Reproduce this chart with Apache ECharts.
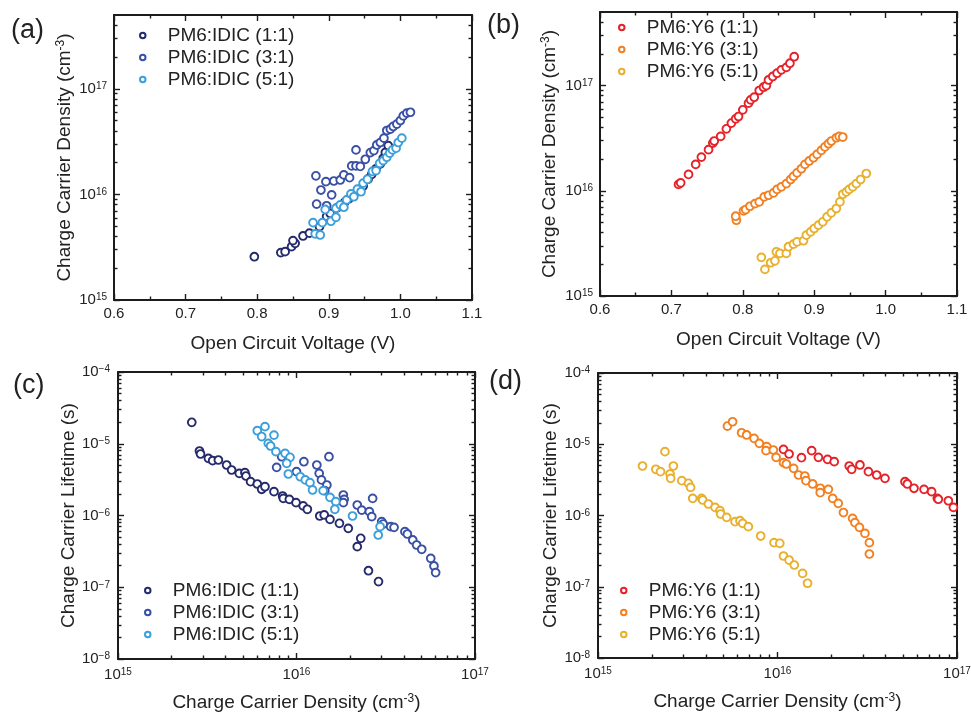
<!DOCTYPE html>
<html><head><meta charset="utf-8">
<script src="https://cdn.jsdelivr.net/npm/echarts@6/dist/echarts.min.js"></script>
<style>html,body{margin:0;padding:0;background:#fff}#c{width:971px;height:713px}</style>
</head><body><div id="c"></div><script>
// ---------- tick labels / categories ----------
const voltageTicks = [0.6, 0.7, 0.8, 0.9, 1.0, 1.1];
const densityDecades = [1e15, 1e16, 1e17];
const lifetimeDecades = [1e-8, 1e-7, 1e-6, 1e-5, 1e-4];
const idicNames = ['PM6:IDIC (1:1)', 'PM6:IDIC (3:1)', 'PM6:IDIC (5:1)'];
const y6Names = ['PM6:Y6 (1:1)', 'PM6:Y6 (3:1)', 'PM6:Y6 (5:1)'];
const idicColors = ['#252a6c', '#3a50a5', '#3c9fda'];
const y6Colors = ['#e52229', '#f28022', '#e8b02c'];

// ---------- (a) carrier density vs Voc, PM6:IDIC ----------
const vocIDIC11 = [[0.796,2.57e15],[0.833,2.81e15],[0.839,2.87e15],[0.848,3.2e15],[0.853,3.44e15],[0.850,3.65e15],[0.864,4.04e15],[0.873,4.3e15],[0.887,4.95e15],[0.897,6.2e15],[0.902,6.6e15],[0.912,7.5e15],[0.922,8.4e15],[0.928,9.1e15],[0.935,1.0e16],[0.942,1.1e16],[0.948,1.2e16],[0.955,1.4e16],[0.960,1.55e16],[0.966,1.75e16],[0.972,1.95e16],[0.976,2.2e16],[0.979,2.5e16],[0.983,2.9e16]];
const vocIDIC31 = [[0.882,1.50e16],[0.889,1.10e16],[0.896,1.32e16],[0.904,9.9e15],[0.883,8.1e15],[0.897,7.8e15],[0.907,1.34e16],[0.916,1.37e16],[0.921,1.53e16],[0.929,1.44e16],[0.938,2.64e16],[0.932,1.86e16],[0.938,1.86e16],[0.944,1.84e16],[0.951,2.15e16],[0.958,2.49e16],[0.963,2.60e16],[0.967,2.94e16],[0.972,3.10e16],[0.977,3.41e16],[0.981,4.03e16],[0.986,4.15e16],[0.990,4.40e16],[0.995,4.63e16],[1.000,5.01e16],[1.004,5.55e16],[1.009,5.88e16],[1.014,6.0e16]];
const vocIDIC51 = [[0.878,5.4e15],[0.881,4.23e15],[0.888,4.13e15],[0.891,5.4e15],[0.903,5.57e15],[0.895,7.2e15],[0.910,6.07e15],[0.910,7.4e15],[0.916,7.96e15],[0.921,7.56e15],[0.925,8.87e15],[0.931,1.01e16],[0.935,9.5e15],[0.940,1.12e16],[0.945,1.06e16],[0.948,1.28e16],[0.954,1.39e16],[0.961,1.65e16],[0.966,1.68e16],[0.971,1.97e16],[0.976,2.09e16],[0.981,2.25e16],[0.985,2.46e16],[0.989,2.64e16],[0.994,2.74e16],[0.997,3.10e16],[1.002,3.41e16]];

// ---------- (b) carrier density vs Voc, PM6:Y6 ----------
const vocY611 = [[0.710,1.15e16],[0.713,1.19e16],[0.724,1.43e16],[0.734,1.78e16],[0.742,2.09e16],[0.752,2.46e16],[0.758,2.84e16],[0.760,2.97e16],[0.769,3.29e16],[0.777,3.88e16],[0.784,4.40e16],[0.790,4.83e16],[0.794,5.08e16],[0.800,5.88e16],[0.808,6.80e16],[0.811,7.31e16],[0.816,7.75e16],[0.823,8.97e16],[0.829,9.64e16],[0.833,1.0e17],[0.836,1.13e17],[0.842,1.22e17],[0.848,1.31e17],[0.854,1.41e17],[0.861,1.49e17],[0.866,1.63e17],[0.872,1.88e17]];
const vocY631 = [[0.791,5.25e15],[0.790,5.73e15],[0.801,6.44e15],[0.804,6.63e15],[0.810,7.13e15],[0.817,7.55e15],[0.823,7.84e15],[0.830,8.75e15],[0.836,9.07e15],[0.843,9.54e15],[0.848,1.03e16],[0.854,1.09e16],[0.861,1.17e16],[0.867,1.28e16],[0.871,1.37e16],[0.876,1.48e16],[0.882,1.62e16],[0.887,1.78e16],[0.893,1.92e16],[0.899,2.06e16],[0.904,2.22e16],[0.910,2.42e16],[0.915,2.61e16],[0.920,2.80e16],[0.924,2.97e16],[0.931,3.19e16],[0.935,3.29e16],[0.940,3.24e16]];
const vocY651 = [[0.826,2.33e15],[0.831,1.79e15],[0.839,2.07e15],[0.845,2.16e15],[0.847,2.63e15],[0.852,2.54e15],[0.861,2.54e15],[0.864,2.94e15],[0.871,3.11e15],[0.876,3.27e15],[0.885,3.35e15],[0.889,3.79e15],[0.895,4.07e15],[0.900,4.38e15],[0.906,4.71e15],[0.912,5.07e15],[0.918,5.65e15],[0.924,6.17e15],[0.931,6.78e15],[0.936,7.84e15],[0.940,9.27e15],[0.945,9.75e15],[0.949,1.03e16],[0.954,1.09e16],[0.959,1.17e16],[0.965,1.28e16],[0.973,1.46e16]];

// ---------- (c) lifetime vs carrier density, PM6:IDIC ----------
const tauIDIC11 = [[2.59e15,1.99e-5],[2.86e15,7.93e-6],[2.90e15,7.2e-6],[3.21e15,6.26e-6],[3.39e15,5.81e-6],[3.65e15,5.94e-6],[4.06e15,5.06e-6],[4.33e15,4.31e-6],[4.78e15,3.87e-6],[5.14e15,3.95e-6],[5.21e15,3.55e-6],[5.53e15,2.96e-6],[6.03e15,2.75e-6],[6.38e15,2.32e-6],[6.66e15,2.52e-6],[7.48e15,2.15e-6],[8.36e15,1.87e-6],[8.44e15,1.73e-6],[9.12e15,1.68e-6],[9.94e15,1.51e-6],[1.09e16,1.36e-6],[1.15e16,1.22e-6],[1.35e16,9.84e-7],[1.43e16,1.02e-6],[1.54e16,8.84e-7],[1.74e16,7.78e-7],[1.95e16,6.62e-7],[2.29e16,4.81e-7],[2.19e16,3.68e-7],[2.53e16,1.70e-7],[2.88e16,1.20e-7]];
const tauIDIC31 = [[7.74e15,4.69e-6],[8.26e15,6.60e-6],[1.00e16,4.08e-6],[1.10e16,5.62e-6],[1.30e16,5.06e-6],[1.34e16,3.87e-6],[1.38e16,3.13e-6],[1.48e16,2.66e-6],[1.52e16,6.60e-6],[1.44e16,2.22e-6],[1.83e16,1.93e-6],[1.85e16,1.68e-6],[1.83e16,1.51e-6],[2.19e16,1.40e-6],[2.32e16,1.19e-6],[2.56e16,1.13e-6],[2.67e16,1.73e-6],[2.64e16,9.63e-7],[3.00e16,8.2e-7],[3.06e16,7.6e-7],[3.37e16,6.99e-7],[3.52e16,6.84e-7],[4.05e16,5.95e-7],[4.18e16,5.52e-7],[4.48e16,4.56e-7],[4.71e16,3.88e-7],[5.03e16,3.38e-7],[5.65e16,2.53e-7],[5.89e16,1.98e-7],[6.02e16,1.60e-7]];
const tauIDIC51 = [[6.03e15,1.52e-5],[6.66e15,1.73e-5],[6.38e15,1.26e-5],[7.48e15,1.32e-5],[6.95e15,1.01e-5],[7.16e15,9.3e-6],[7.67e15,7.76e-6],[8.63e15,7.35e-6],[9.2e15,6.47e-6],[8.81e15,5.34e-6],[9.0e15,3.79e-6],[1.05e16,3.47e-6],[1.12e16,3.13e-6],[1.19e16,2.87e-6],[1.23e16,2.27e-6],[1.41e16,2.22e-6],[1.54e16,1.79e-6],[1.66e16,1.56e-6],[1.64e16,1.22e-6],[2.06e16,9.84e-7],[2.94e16,6.99e-7],[2.87e16,5.35e-7]];

// ---------- (d) lifetime vs carrier density, PM6:Y6 ----------
const tauY611 = [[1.08e16,8.48e-6],[1.16e16,7.30e-6],[1.36e16,6.48e-6],[1.55e16,8.13e-6],[1.69e16,6.55e-6],[1.90e16,6.14e-6],[2.07e16,5.70e-6],[2.51e16,4.95e-6],[2.59e16,4.45e-6],[2.88e16,5.12e-6],[3.21e16,4.12e-6],[3.57e16,3.70e-6],[3.97e16,3.32e-6],[5.13e16,2.98e-6],[5.29e16,2.77e-6],[5.76e16,2.41e-6],[6.55e16,2.33e-6],[7.22e16,2.16e-6],[7.77e16,1.74e-6],[7.87e16,1.69e-6],[8.95e16,1.61e-6],[9.55e16,1.30e-6]];
const tauY631 = [[5.26e15,1.80e-5],[5.62e15,2.07e-5],[6.31e15,1.45e-5],[6.73e15,1.35e-5],[7.40e15,1.21e-5],[7.92e15,1.03e-5],[8.71e15,9.25e-6],[8.63e15,8.13e-6],[9.48e15,8.30e-6],[9.82e15,6.55e-6],[1.08e16,5.51e-6],[1.12e16,5.28e-6],[1.23e16,4.59e-6],[1.31e16,3.70e-6],[1.42e16,3.58e-6],[1.44e16,3.08e-6],[1.57e16,2.77e-6],[1.73e16,2.41e-6],[1.92e16,2.33e-6],[1.73e16,2.09e-6],[2.03e16,1.74e-6],[2.18e16,1.48e-6],[2.33e16,1.10e-6],[2.62e16,9.12e-7],[2.70e16,7.93e-7],[2.86e16,6.82e-7],[3.07e16,5.62e-7],[3.25e16,4.16e-7],[3.25e16,2.88e-7]];
const tauY651 = [[1.77e15,4.95e-6],[2.10e15,4.45e-6],[2.23e15,4.12e-6],[2.36e15,7.87e-6],[2.52e15,3.82e-6],[2.54e15,3.32e-6],[2.63e15,4.95e-6],[2.93e15,3.08e-6],[3.19e15,2.83e-6],[3.28e15,2.48e-6],[3.37e15,1.74e-6],[3.78e15,1.74e-6],[3.83e15,1.65e-6],[4.12e15,1.45e-6],[4.49e15,1.30e-6],[4.78e15,1.17e-6],[4.82e15,1.05e-6],[5.21e15,9.42e-7],[5.80e15,8.19e-7],[6.18e15,8.45e-7],[6.40e15,7.76e-7],[6.88e15,6.97e-7],[8.06e15,5.15e-7],[9.57e15,4.16e-7],[1.03e16,4.07e-7],[1.08e16,2.70e-7],[1.16e16,2.37e-7],[1.24e16,2.02e-7],[1.38e16,1.54e-7],[1.47e16,1.12e-7]];

// ---------- styling ----------
const FONT = '"Liberation Sans", Arial, sans-serif';
const AX = '#1c1c1c';
const TXT = '#222222';

function minorLogTicks(min, max) {
  const out = [];
  for (let e = Math.floor(Math.log10(min)); e <= Math.ceil(Math.log10(max)); e++) {
    for (let k = 2; k <= 9; k++) {
      const v = k * Math.pow(10, e);
      if (v > min * 1.0001 && v < max * 0.9999) out.push(v);
    }
  }
  return out;
}
function supFmt(minus) {
  return function (v) {
    const e = Math.round(Math.log10(v));
    const s = e < 0 ? minus + Math.abs(e) : String(e);
    return '10{sup|' + s + '}';
  };
}

const xAxes = [], yAxes = [];
function addAxes(list, gridIndex, dim, cfg) {
  const posMain = dim === 'x' ? 'bottom' : 'left';
  const posMirror = dim === 'x' ? 'top' : 'right';
  const common = { gridIndex: gridIndex, type: cfg.type, min: cfg.min, max: cfg.max,
    splitLine: { show: false }, silent: true, axisPointer: { show: false } };
  if (cfg.type === 'log') common.logBase = 10;
  const tickStyle = { color: AX, width: 1.4 };
  const mainIndex = list.length;
  [posMain, posMirror].forEach(function (pos, i) {
    const ax = Object.assign({}, common, {
      position: pos,
      axisLine: { show: true, onZero: false, lineStyle: { color: AX, width: 2 } },
      axisTick: { show: true, inside: true, length: 6, lineStyle: tickStyle },
      axisLabel: { show: false }
    });
    if (cfg.type === 'value') {
      ax.interval = cfg.interval;
      ax.minorTick = { show: true, splitNumber: 2, length: 3.5, lineStyle: tickStyle };
    } else {
      ax.axisTick.customValues = cfg.major;
    }
    if (i === 0) {
      ax.axisLabel = { show: true, margin: cfg.labelMargin, fontSize: 15, color: TXT, fontFamily: FONT,
        formatter: cfg.fmt,
        rich: { sup: { fontSize: 10, verticalAlign: 'top', color: TXT, fontFamily: FONT } } };
      if (cfg.type === 'log') ax.axisLabel.customValues = cfg.major;
      ax.name = cfg.name; ax.nameLocation = 'middle'; ax.nameGap = cfg.nameGap;
      ax.nameTextStyle = { fontSize: 19, color: TXT, fontFamily: FONT,
        rich: { sup: { fontSize: 12, verticalAlign: 'top', color: TXT, fontFamily: FONT } } };
    }
    list.push(ax);
  });
  if (cfg.type === 'log') {
    [posMain, posMirror].forEach(function (pos) {
      list.push(Object.assign({}, common, { position: pos,
        axisLine: { show: false, onZero: false },
        axisTick: { show: true, inside: true, length: 3.5, lineStyle: tickStyle, customValues: cfg.minor },
        axisLabel: { show: false } }));
    });
  }
  return mainIndex;
}

const voltCfg = (gap) => ({ type: 'value', min: 0.6, max: 1.1, interval: 0.1, labelMargin: 6,
  fmt: v => Number(v).toFixed(1), name: 'Open Circuit Voltage (V)', nameGap: gap });
const densYCfg = (gap) => ({ type: 'log', min: 1e15, max: 5e17, major: densityDecades,
  minor: minorLogTicks(1e15, 5e17), labelMargin: 7, fmt: supFmt('-'),
  name: 'Charge Carrier Density (cm{sup|-3})', nameGap: gap });
const densXCfg = (gap, minus) => ({ type: 'log', min: 1e15, max: 1e17, major: densityDecades,
  minor: minorLogTicks(1e15, 1e17), labelMargin: 8, fmt: supFmt(minus),
  name: 'Charge Carrier Density (cm{sup|-3})', nameGap: gap });
const tauCfg = (gap, minus) => ({ type: 'log', min: 1e-8, max: 1e-4, major: lifetimeDecades,
  minor: minorLogTicks(1e-8, 1e-4), labelMargin: 8, fmt: supFmt(minus),
  name: 'Charge Carrier Lifetime (s)', nameGap: gap });

const grids = [
  { left: 114, top: 15, width: 358, height: 285 },
  { left: 600, top: 12, width: 357, height: 284 },
  { left: 118, top: 372, width: 357, height: 287 },
  { left: 598, top: 373, width: 359, height: 285 }
].map(g => Object.assign({ containLabel: false, outerBoundsMode: 'none' }, g));

const axA = [addAxes(xAxes, 0, 'x', voltCfg(34)), addAxes(yAxes, 0, 'y', densYCfg(40))];
const axB = [addAxes(xAxes, 1, 'x', voltCfg(34)), addAxes(yAxes, 1, 'y', densYCfg(41))];
const axC = [addAxes(xAxes, 2, 'x', densXCfg(34, '\u2212')), addAxes(yAxes, 2, 'y', tauCfg(40, '\u2212'))];
const axD = [addAxes(xAxes, 3, 'x', densXCfg(34, '-')), addAxes(yAxes, 3, 'y', tauCfg(38, '-'))];

function sc(name, color, ax, data) {
  return { type: 'scatter', name: name, xAxisIndex: ax[0], yAxisIndex: ax[1], data: data,
    symbol: 'circle', symbolSize: 7.8, silent: true,
    itemStyle: { color: '#ffffff', borderColor: color, borderWidth: 1.9, opacity: 1 },
    emphasis: { disabled: true } };
}
const series = [
  sc(idicNames[0], idicColors[0], axA, vocIDIC11),
  sc(idicNames[1], idicColors[1], axA, vocIDIC31),
  sc(idicNames[2], idicColors[2], axA, vocIDIC51),
  sc(y6Names[0], y6Colors[0], axB, vocY611),
  sc(y6Names[1], y6Colors[1], axB, vocY631),
  sc(y6Names[2], y6Colors[2], axB, vocY651),
  sc(idicNames[0], idicColors[0], axC, tauIDIC11),
  sc(idicNames[1], idicColors[1], axC, tauIDIC31),
  sc(idicNames[2], idicColors[2], axC, tauIDIC51),
  sc(y6Names[0], y6Colors[0], axD, tauY611),
  sc(y6Names[1], y6Colors[1], axD, tauY631),
  sc(y6Names[2], y6Colors[2], axD, tauY651)
];

function lg(names, left, top) {
  return { data: names, orient: 'vertical', left: left, top: top, itemWidth: 40, itemHeight: 5.5,
    itemGap: 3, selectedMode: false, padding: 0,
    itemStyle: { borderWidth: 2 },
    textStyle: { fontSize: 19, color: TXT, fontFamily: FONT, padding: 0 } };
}
const legends = [lg(idicNames, 139, 26), lg(y6Names, 618, 18), lg(idicNames, 144, 581), lg(y6Names, 620, 581)];

function panelLabel(t, x, y) {
  return { type: 'text', x: x, y: y, silent: true,
    style: { text: t, fill: TXT, font: '27px ' + FONT, align: 'left', verticalAlign: 'middle' } };
}

const chart = echarts.init(document.getElementById('c'), null, { renderer: 'canvas' });
chart.setOption({
  animation: false,
  backgroundColor: '#ffffff',
  grid: grids,
  xAxis: xAxes,
  yAxis: yAxes,
  legend: legends,
  series: series,
  graphic: [panelLabel('(a)', 11, 31), panelLabel('(b)', 487, 26), panelLabel('(c)', 13, 386), panelLabel('(d)', 489, 382)]
});
</script></body></html>
